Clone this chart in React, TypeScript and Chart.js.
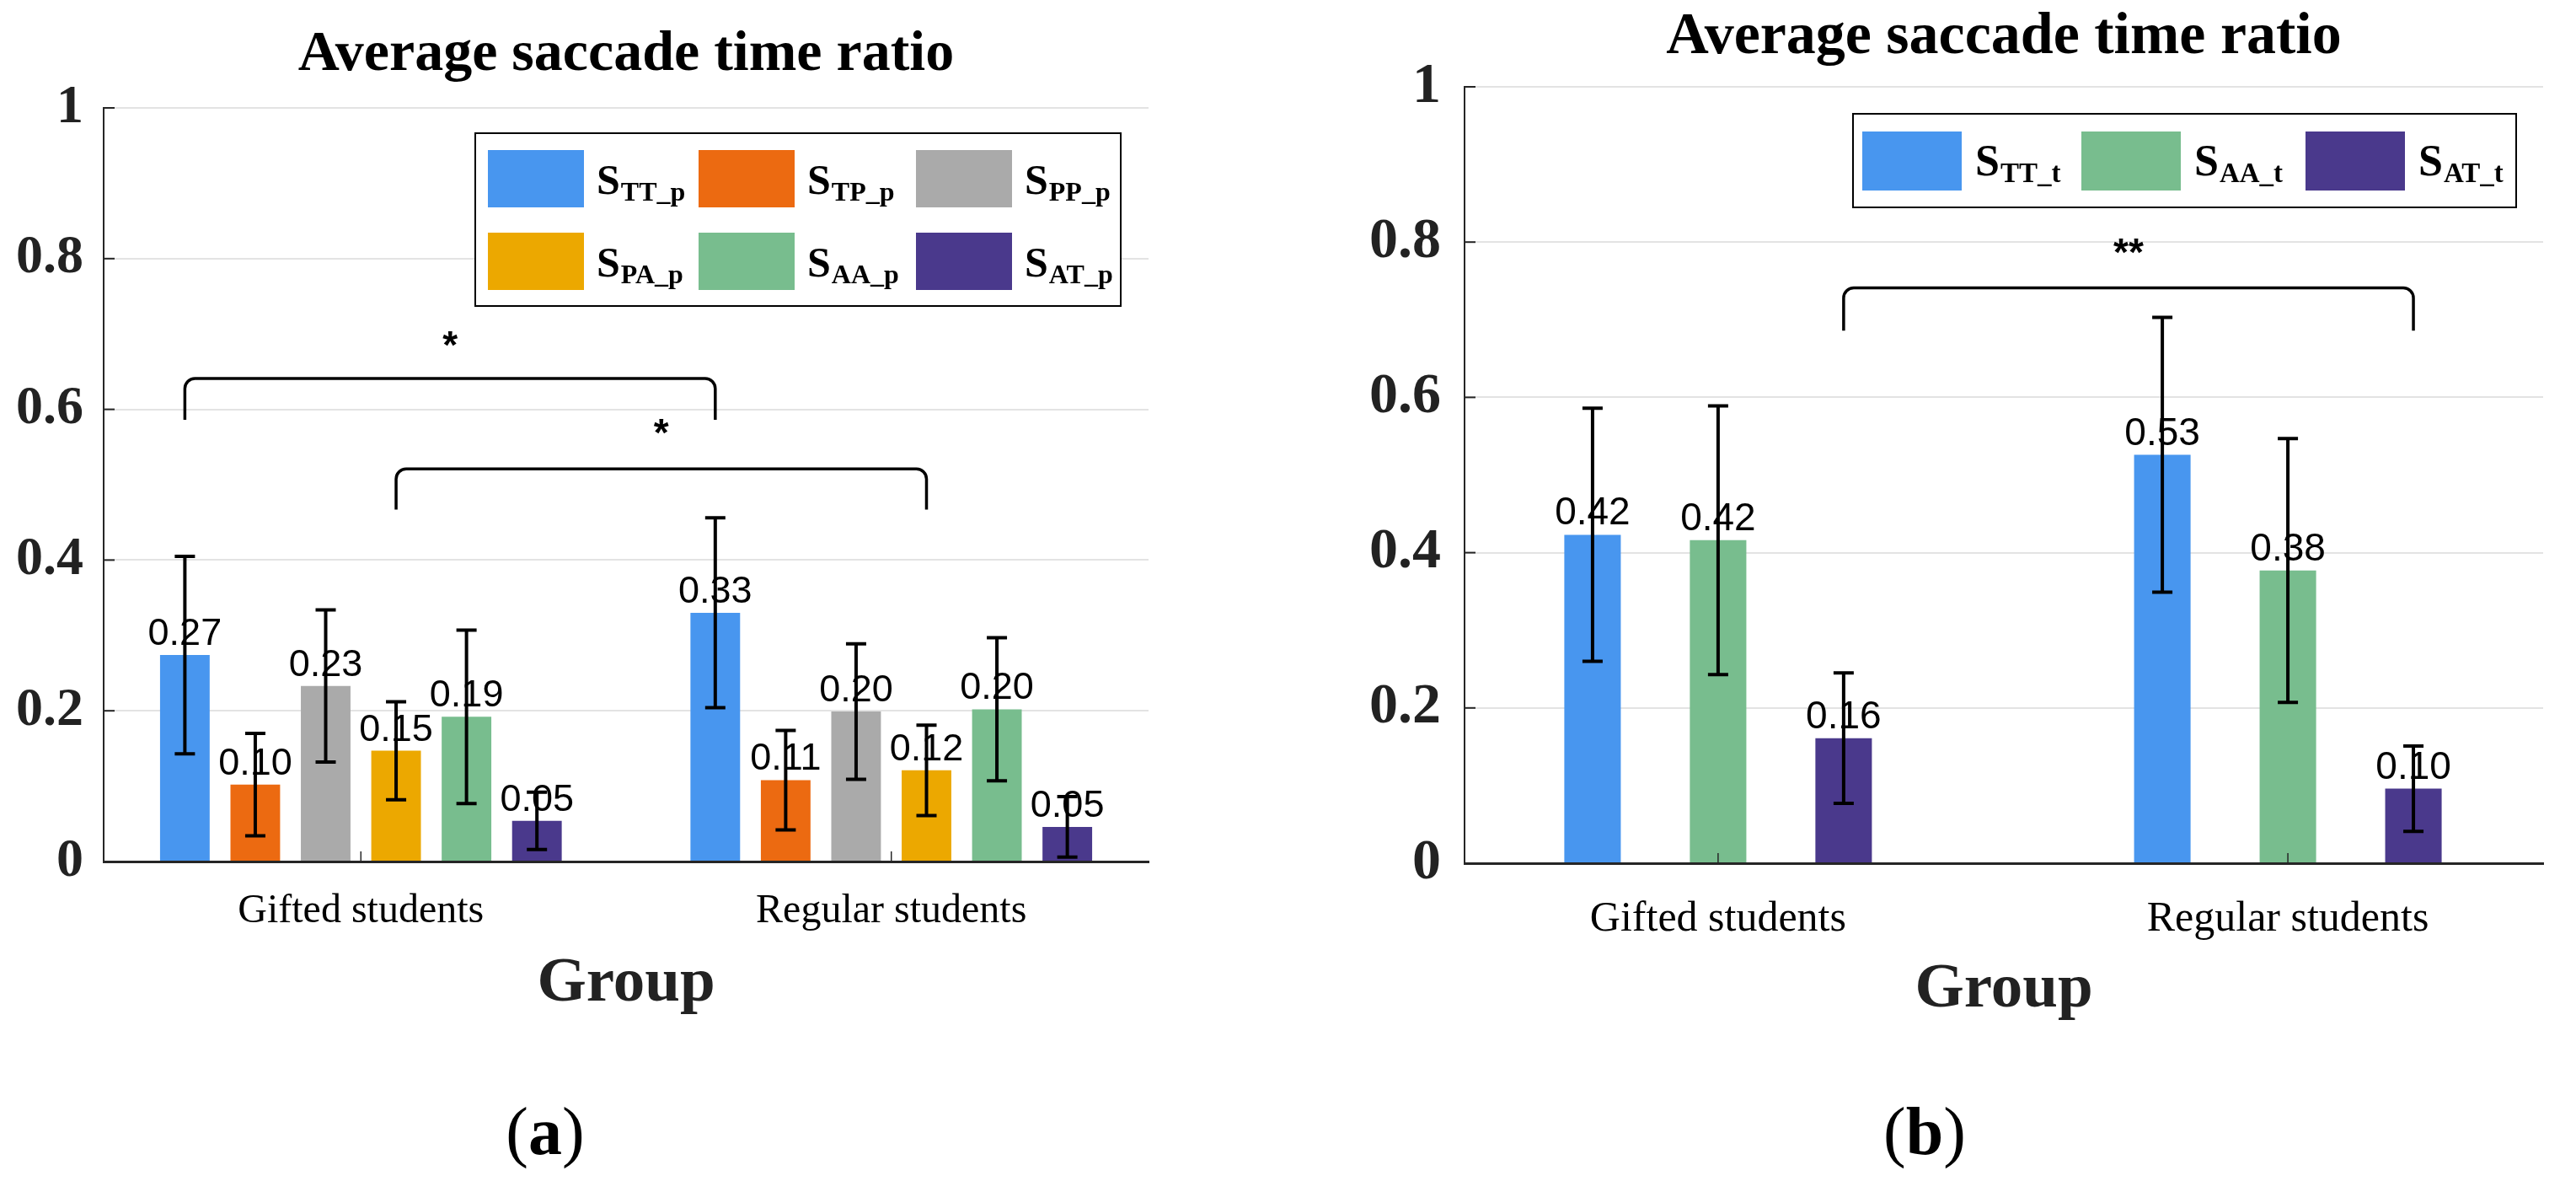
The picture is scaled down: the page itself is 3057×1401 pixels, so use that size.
import React, { useRef, useEffect } from 'react';
import { Chart, registerables } from 'chart.js';

Chart.register(...registerables);

const SERIF = '"Liberation Serif", "Times New Roman", serif';
const SANS = '"Liberation Sans", Arial, sans-serif';

const groups = ['Gifted students', 'Regular students'];
const yTicks = [0, 0.2, 0.4, 0.6, 0.8, 1];

// panel (a): saccade time ratio by pattern
const seriesA = ['TT_p', 'TP_p', 'PP_p', 'PA_p', 'AA_p', 'AT_p'];
const colorsA = ['#4896EF', '#EC6A11', '#AAAAAA', '#ECA800', '#78BD8E', '#4A398C'];
const meansA = [
    [0.274, 0.330],
    [0.102, 0.108],
    [0.233, 0.199],
    [0.147, 0.121],
    [0.192, 0.202],
    [0.054, 0.046],
];
const errorsA = [
    [0.131, 0.126],
    [0.068, 0.066],
    [0.101, 0.090],
    [0.065, 0.060],
    [0.115, 0.095],
    [0.038, 0.040],
];
const bracketsA = [
    { series: 0, top: 0.641, leg: 0.586, star: 0.697, text: '*' },
    { series: 3, top: 0.521, leg: 0.467, star: 0.580, text: '*' },
];

// panel (b): saccade time ratio by target
const seriesB = ['TT_t', 'AA_t', 'AT_t'];
const colorsB = ['#4896EF', '#78BD8E', '#4A398C'];
const meansB = [
    [0.423, 0.526],
    [0.416, 0.377],
    [0.161, 0.096],
];
const errorsB = [
    [0.163, 0.177],
    [0.173, 0.170],
    [0.084, 0.055],
];
const bracketsB = [
    { series: 2, top: 0.741, leg: 0.686, star: 0.798, text: '**' },
];

const figurePlugin = {
    id: 'figure',
    afterDatasetsDraw(chart: any, _args: any, opts: any) {
        const { ctx, chartArea } = chart;
        const x = chart.scales.x;
        const y = chart.scales.y;
        ctx.save();

        // MATLAB style inward tick marks
        ctx.strokeStyle = '#262626';
        ctx.lineWidth = 2;
        y.ticks.forEach((t: any) => {
            const py = y.getPixelForValue(t.value);
            ctx.beginPath();
            ctx.moveTo(chartArea.left, py);
            ctx.lineTo(chartArea.left + 13, py);
            ctx.stroke();
        });
        ctx.lineWidth = 1.5;
        x.ticks.forEach((t: any) => {
            const px = x.getPixelForValue(t.value);
            ctx.beginPath();
            ctx.moveTo(px, chartArea.bottom);
            ctx.lineTo(px, chartArea.bottom - 12);
            ctx.stroke();
        });

        // value labels
        ctx.font = opts.valueFont;
        ctx.fillStyle = '#000';
        ctx.textAlign = 'center';
        ctx.textBaseline = 'alphabetic';
        chart.data.datasets.forEach((ds: any, d: number) => {
            chart.getDatasetMeta(d).data.forEach((bar: any, i: number) => {
                ctx.fillText(ds.data[i].y.toFixed(2), bar.x, bar.y - 12);
            });
        });

        // error bars
        ctx.strokeStyle = '#000';
        ctx.lineWidth = 4;
        chart.data.datasets.forEach((ds: any, d: number) => {
            chart.getDatasetMeta(d).data.forEach((bar: any, i: number) => {
                const v = ds.data[i].y;
                const e = opts.errors[d][i];
                const hi = y.getPixelForValue(v + e);
                const lo = y.getPixelForValue(v - e);
                ctx.beginPath();
                ctx.moveTo(bar.x, hi);
                ctx.lineTo(bar.x, lo);
                ctx.moveTo(bar.x - 12, hi);
                ctx.lineTo(bar.x + 12, hi);
                ctx.moveTo(bar.x - 12, lo);
                ctx.lineTo(bar.x + 12, lo);
                ctx.stroke();
            });
        });

        // significance brackets
        ctx.lineWidth = 3.5;
        opts.brackets.forEach((b: any) => {
            const m = chart.getDatasetMeta(b.series);
            const x1 = m.data[0].x;
            const x2 = m.data[1].x;
            const yt = y.getPixelForValue(b.top);
            const yl = y.getPixelForValue(b.leg);
            const r = 12;
            ctx.beginPath();
            ctx.moveTo(x1, yl);
            ctx.arcTo(x1, yt, x1 + r, yt, r);
            ctx.arcTo(x2, yt, x2, yt + r, r);
            ctx.lineTo(x2, yl);
            ctx.stroke();
            ctx.font = opts.starFont;
            ctx.fillText(b.text, (x1 + x2) / 2, y.getPixelForValue(b.star) + 26);
        });
        ctx.restore();
    },
    afterDraw(chart: any, _args: any, opts: any) {
        const { ctx } = chart;
        const lg = opts.legend;
        const [bx, by, bw, bh] = lg.box;
        ctx.save();
        ctx.fillStyle = '#fff';
        ctx.fillRect(bx, by, bw, bh);
        ctx.strokeStyle = '#000';
        ctx.lineWidth = 2;
        ctx.strokeRect(bx, by, bw, bh);
        ctx.textAlign = 'left';
        ctx.textBaseline = 'alphabetic';
        chart.data.datasets.forEach((ds: any, k: number) => {
            const col = k % lg.colX.length;
            const row = Math.floor(k / lg.colX.length);
            const sx = lg.colX[col];
            const sy = lg.rowY[row];
            ctx.fillStyle = ds.backgroundColor;
            ctx.fillRect(sx, sy, lg.sw, lg.sh);
            ctx.fillStyle = '#000';
            ctx.font = `bold ${lg.main}px ${SERIF}`;
            const tx = sx + lg.labelDx;
            const ty = sy + lg.baseDy;
            ctx.fillText('S', tx, ty);
            const w = ctx.measureText('S').width;
            ctx.font = `bold ${lg.sub}px ${SERIF}`;
            ctx.fillText(ds.sub, tx + w + 1, ty + lg.subDy);
        });
        ctx.restore();
    },
};

function makeConfig(p: any): any {
    return {
        type: 'bar',
        data: {
            datasets: p.series.map((s: string, k: number) => ({
                label: 'S' + s,
                sub: s,
                data: p.means[k].map((v: number, i: number) => ({ x: i + 1, y: v })),
                backgroundColor: p.colors[k],
                borderWidth: 0,
                categoryPercentage: p.catPct,
                barPercentage: p.barPct,
            })),
        },
        plugins: [figurePlugin],
        options: {
            responsive: false,
            animation: false,
            layout: { padding: { left: 0, right: p.padRight, top: 0, bottom: 0 } },
            plugins: {
                legend: { display: false },
                tooltip: { enabled: false },
                title: {
                    display: true,
                    text: 'Average saccade time ratio',
                    fullSize: false,
                    color: '#000',
                    font: { family: SERIF, size: p.titleSize, weight: 'bold', lineHeight: 1.2 },
                    padding: p.titlePad,
                },
                figure: {
                    errors: p.errors,
                    brackets: p.brackets,
                    legend: p.legend,
                    valueFont: `${p.valueSize}px ${SANS}`,
                    starFont: `bold 46px ${SANS}`,
                },
            },
            scales: {
                x: {
                    type: 'linear',
                    min: p.xMin,
                    max: p.xMax,
                    offset: false,
                    grid: { display: false },
                    border: { display: true, color: '#262626', width: 3 },
                    afterBuildTicks: (s: any) => {
                        s.ticks = groups.map((_, i) => ({ value: i + 1 }));
                    },
                    afterFit: (s: any) => {
                        s.height = p.xHeight;
                    },
                    ticks: {
                        callback: (v: number) => groups[v - 1] ?? '',
                        color: '#000',
                        font: { family: SERIF, size: p.xTickSize, lineHeight: 1.2 },
                        padding: p.xTickPad,
                        maxRotation: 0,
                        autoSkip: false,
                    },
                    title: {
                        display: true,
                        text: 'Group',
                        color: '#222',
                        font: { family: SERIF, size: 75, weight: 'bold', lineHeight: 1.2 },
                        padding: { top: 0, bottom: p.groupPad },
                    },
                },
                y: {
                    min: 0,
                    max: 1,
                    afterBuildTicks: (s: any) => {
                        s.ticks = yTicks.map((v) => ({ value: v }));
                    },
                    afterFit: (s: any) => {
                        s.width = p.yWidth;
                    },
                    grid: { color: '#e3e3e3', lineWidth: 2, drawTicks: false },
                    border: { display: true, color: '#262626', width: 2 },
                    ticks: {
                        callback: (v: number) => String(v),
                        color: '#222',
                        font: { family: SERIF, size: p.yTickSize, weight: 'bold', lineHeight: 1.2 },
                        padding: p.yTickPad,
                    },
                },
            },
        },
    };
}

const panelA = {
    series: seriesA, colors: colorsA, means: meansA, errors: errorsA, brackets: bracketsA,
    catPct: 0.7965, barPct: 0.705, xMin: 0.515, xMax: 2.485,
    padRight: 37, yWidth: 123, xHeight: 218,
    titleSize: 68, titlePad: { top: 24.7, bottom: 21.7 },
    yTickSize: 64, yTickPad: 24, xTickSize: 48, xTickPad: 23, groupPad: 27, valueSize: 45,
    legend: {
        box: [564, 158, 766, 205], colX: [579, 829, 1087], rowY: [178, 276],
        sw: 114, sh: 68, labelDx: 129, baseDy: 52, main: 50, sub: 32, subDy: 8,
    },
};

const panelB = {
    series: seriesB, colors: colorsB, means: meansB, errors: errorsB, brackets: bracketsB,
    catPct: 0.661, barPct: 0.45, xMin: 0.555, xMax: 2.448,
    padRight: 32, yWidth: 198, xHeight: 216,
    titleSize: 70, titlePad: { top: 3, bottom: 16 },
    yTickSize: 68, yTickPad: 28, xTickSize: 50, xTickPad: 28.5, groupPad: 20, valueSize: 46,
    legend: {
        box: [659, 135, 787, 111], colX: [670, 930, 1196], rowY: [156],
        sw: 118, sh: 70, labelDx: 134, baseDy: 52, main: 52, sub: 33, subDy: 8,
    },
};

const Panel: React.FC<{ panel: any; left: number; width: number; height: number }> = ({ panel, left, width, height }) => {
    const chartRef = useRef<HTMLCanvasElement | null>(null);

    useEffect(() => {
        if (!chartRef.current) return;
        const chartInstance = new Chart(chartRef.current, makeConfig(panel));
        return () => {
            chartInstance.destroy();
        };
    }, [panel]);

    return (
        <canvas
            ref={chartRef}
            width={width}
            height={height}
            style={{ position: 'absolute', left, top: 0, width, height }}
        />
    );
};

const captionStyle = (center: number): React.CSSProperties => ({
    position: 'absolute',
    left: center - 100,
    width: 200,
    top: 1302,
    textAlign: 'center',
    fontFamily: SERIF,
    fontSize: 80,
    lineHeight: '80px',
    color: '#000',
});

export default function App() {
    return (
        <div style={{ position: 'absolute', left: 0, top: 0, width: 3057, height: 1401, background: '#fff', overflow: 'hidden' }}>
            <Panel panel={panelA} left={0} width={1400} height={1240} />
            <Panel panel={panelB} left={1540} width={1510} height={1240} />
            <div style={captionStyle(647)}>(<b>a</b>)</div>
            <div style={captionStyle(2284)}>(<b>b</b>)</div>
        </div>
    );
}
